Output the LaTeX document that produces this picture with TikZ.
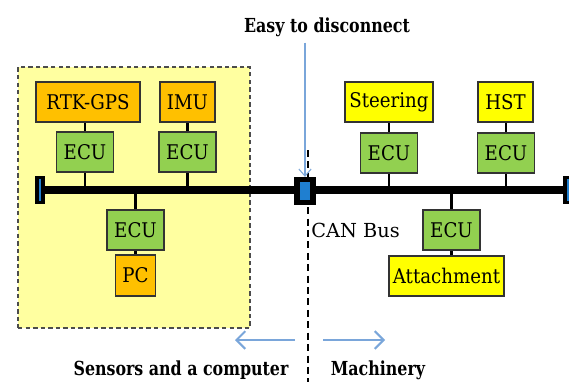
\documentclass[tikz,border=0pt]{standalone}
\usepackage{fontspec}
\setmainfont{DejaVu Serif}
\newfontfamily\capfont[FakeStretch=0.82]{DejaVu Serif}
\newfontfamily\boxfont[FakeStretch=0.9]{DejaVu Serif}
\usetikzlibrary{arrows.meta}

\tikzset{
  unit/.style={draw=black!80, line width=1pt, inner sep=0pt,
    minimum height=0.8cm, font=\boxfont\fontsize{11.5}{13}\selectfont},
  ecubox/.style={unit, fill=ecugreen, minimum width=1.14cm},
  sensorbox/.style={unit, fill=sensororange},
  machbox/.style={unit, fill=machyellow},
  term/.style={draw=black, line width=2pt, fill=canblue, inner sep=0pt,
    minimum width=0.12cm, minimum height=0.5cm},
  stub/.style={line width=1.7pt},
  hint/.style={draw=hintblue, line width=1.2pt,
    -{Straight Barb[length=5pt,width=10pt]}},
  caption/.style={font=\capfont\bfseries\fontsize{11}{13}\selectfont},
}

\begin{document}
\begin{tikzpicture}[x=0.02cm,y=-0.02cm]

    \definecolor{ecugreen}{HTML}{92D050}
    \definecolor{sensororange}{HTML}{FFC000}
    \definecolor{machyellow}{HTML}{FFFF00}
    \definecolor{areayellow}{HTML}{FFFFA0}
    \definecolor{canblue}{HTML}{1F7FD0}
    \definecolor{hintblue}{HTML}{7AA6DA}

    \useasboundingbox (0,0) rectangle (569,382);

    % sensor side
    \node[draw=black!70, line width=1pt, dash pattern=on 2.5pt off 1.8pt,
      fill=areayellow, inner sep=0pt, minimum width=4.64cm,
      minimum height=5.22cm] (area) at (134,197.5) {};

    \node[sensorbox, minimum width=2.08cm] (rtk) at (88,102) {RTK-GPS};
    \node[sensorbox, minimum width=1.1cm] (imu) at (187.5,102) {IMU};
    \node[ecubox] (ecuA) at (85,152) {ECU};
    \node[ecubox] (ecuB) at (187.5,152) {ECU};
    \node[ecubox] (ecuC) at (135.5,230) {ECU};
    \node[sensorbox, minimum width=0.8cm, minimum height=0.82cm] (pc) at (135.5,275.5) {PC};

    % machinery side
    \node[machbox, minimum width=1.76cm] (steer) at (389,102) {Steering};
    \node[machbox, minimum width=1.1cm] (hst) at (505.5,102) {HST};
    \node[ecubox] (ecuD) at (389,153) {ECU};
    \node[ecubox] (ecuE) at (506,153) {ECU};
    \node[ecubox] (ecuF) at (451.5,230) {ECU};
    \node[machbox, minimum width=2.3cm] (attach) at (446.5,276) {Attachment};

    % the cut between both sides
    \coordinate (cutTop) at (308,150);
    \coordinate (cutBot) at (308,382);
    \draw[line width=1.3pt, dash pattern=on 4pt off 2.5pt] (cutTop) -- (cutBot);

    % bus
    \coordinate (busL) at (40,190);
    \coordinate (busR) at (575,190);
    \draw[line width=4.5pt] (busL) -- (busR);
    \node[term] (termL) at (busL) {};
    \node[term] (termR) at (568,190) {};
    \node[draw=black, line width=3pt, fill=canblue, inner sep=0pt,
      minimum width=0.32cm, minimum height=0.46cm] (plug) at (305,191) {};

    \draw[stub] (ecuA.north) -- (ecuA.north |- rtk.south);
    \draw[stub] (ecuB) -- (imu);
    \draw[stub] (ecuD) -- (steer);
    \draw[stub] (ecuE.north) -- (ecuE.north |- hst.south);
    \draw[stub] (pc) -- (ecuC);
    \draw[stub] (attach.north -| ecuF) -- (ecuF);
    \foreach \u in {ecuA,ecuB,ecuD,ecuE}
      \draw[stub] (\u.south) -- (\u.south |- busL);
    \foreach \u in {ecuC,ecuF}
      \draw[stub] (\u.north) -- (\u.north |- busL);

    \node[anchor=west, inner sep=0pt, font=\fontsize{11}{13}\selectfont] (canlbl) at (311,230) {CAN Bus};

    % captions
    \node[caption] (easy) at (327,27) {Easy to disconnect};
    \draw[hint, line width=0.6pt, -{Straight Barb[length=4pt,width=7pt]}]
      (easy.south -| plug.north) -- (plug.north);

    \coordinate (leftS) at (295,340);
    \coordinate (leftE) at (235,340);
    \coordinate (rightS) at (323,340);
    \coordinate (rightE) at (385,340);
    \draw[hint] (leftS) -- (leftE);
    \draw[hint] (rightS) -- (rightE);

    \node[caption] (senslbl) at (181,370) {Sensors and a computer};
    \node[caption] (machlbl) at (378,370) {Machinery};

\end{tikzpicture}
\end{document}
